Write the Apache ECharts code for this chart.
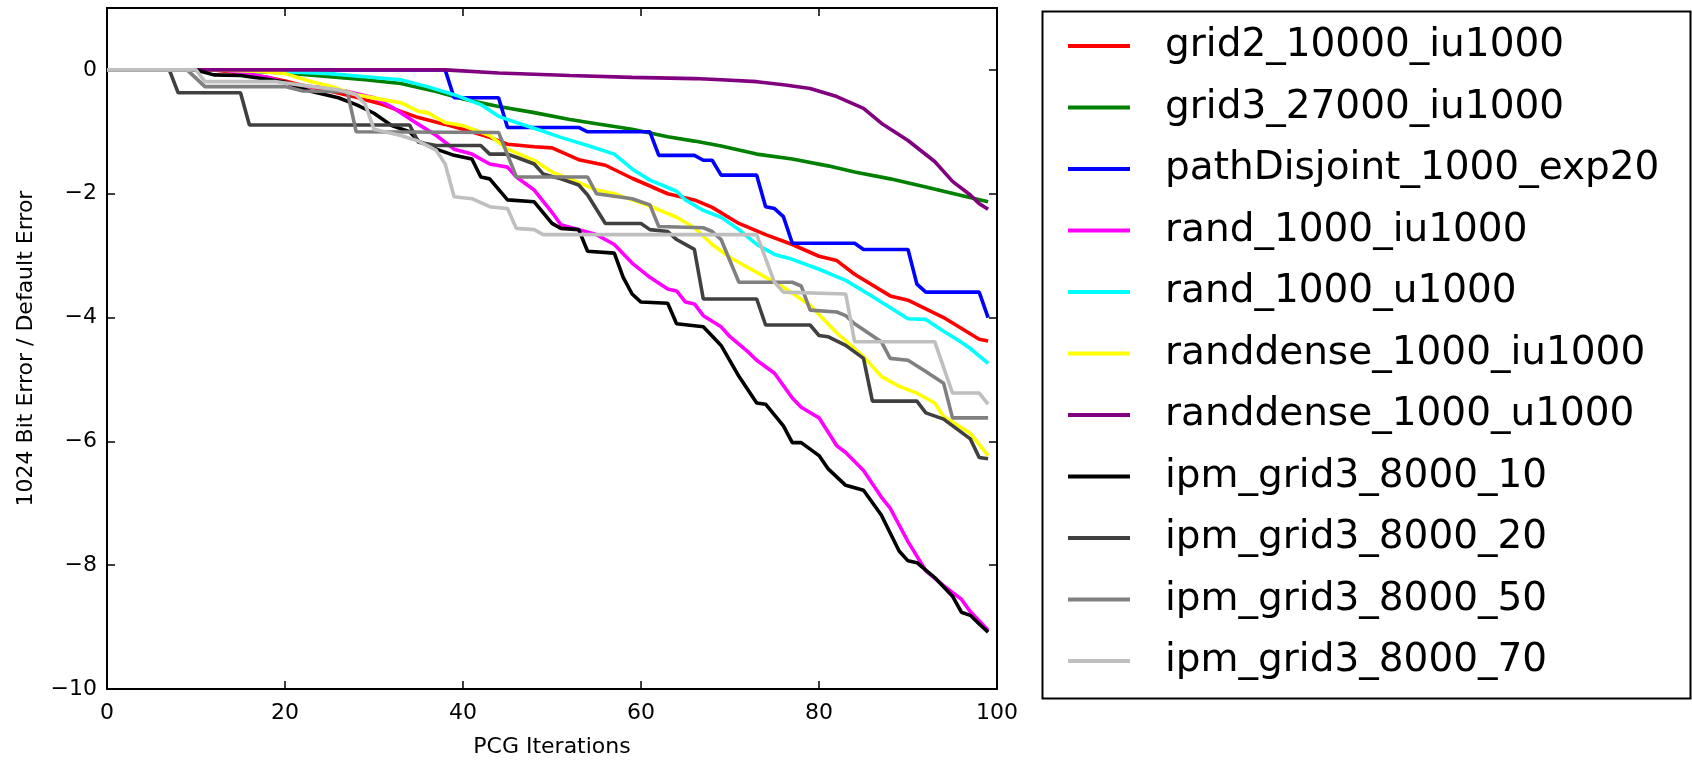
<!DOCTYPE html>
<html>
<head>
<meta charset="utf-8">
<title>PCG iterations</title>
<script src="https://cdn.jsdelivr.net/npm/echarts@6/dist/echarts.min.js"></script>
<style>
    html, body { margin: 0; padding: 0; background: #fff; }
    #chart { width: 1692px; height: 763px; }
</style>
</head>
<body>
<div id="chart"></div>
<script>
// [iteration, log error ratio]
const grid2_10000_iu1000 = [[0,0],[12,0],[15,-0.05],[18,-0.12],[20,-0.18],[22,-0.25],[25,-0.34],[28,-0.44],[31,-0.56],[33,-0.67],[35,-0.77],[38,-0.88],[40,-0.96],[43,-1.09],[45,-1.2],[48,-1.24],[50,-1.26],[53,-1.45],[56,-1.54],[59,-1.75],[63,-2.0],[66,-2.1],[68,-2.22],[71,-2.48],[74,-2.66],[77,-2.82],[80,-3.01],[82,-3.08],[84,-3.3],[88,-3.65],[90,-3.72],[92,-3.86],[94,-4.0],[98,-4.35],[99,-4.38]];
const grid3_27000_iu1000 = [[0,0],[12,0],[16,-0.02],[20,-0.05],[25,-0.11],[29,-0.16],[33,-0.22],[37,-0.35],[40,-0.47],[44,-0.59],[48,-0.69],[52,-0.8],[55,-0.87],[59,-0.96],[63,-1.08],[66,-1.15],[69,-1.23],[73,-1.36],[77,-1.44],[81,-1.55],[84,-1.65],[88,-1.76],[92,-1.89],[96,-2.03],[99,-2.13]];
const pathDisjoint_1000_exp20 = [[0,0],[38,0],[39,-0.45],[44,-0.45],[45,-0.93],[53,-0.93],[54,-1.0],[61,-1.0],[62,-1.38],[66,-1.38],[67,-1.46],[68,-1.46],[69,-1.7],[73,-1.7],[74,-2.21],[75,-2.24],[76,-2.37],[77,-2.8],[84,-2.8],[85,-2.9],[90,-2.9],[91,-3.46],[92,-3.59],[98,-3.59],[99,-4.0]];
const rand_1000_iu1000 = [[0,0],[13,0],[16,-0.07],[18,-0.12],[21,-0.25],[24,-0.28],[27,-0.35],[30,-0.45],[32,-0.6],[33,-0.69],[35,-0.88],[37,-1.06],[39,-1.28],[41,-1.36],[43,-1.52],[45,-1.57],[46,-1.73],[48,-1.94],[50,-2.3],[51,-2.5],[53,-2.58],[55,-2.66],[57,-2.82],[59,-3.12],[61,-3.35],[63,-3.54],[64,-3.57],[65,-3.75],[66,-3.78],[67,-3.97],[69,-4.15],[70,-4.31],[72,-4.55],[73,-4.69],[75,-4.9],[77,-5.3],[78,-5.45],[80,-5.62],[82,-6.07],[83,-6.18],[85,-6.47],[87,-6.9],[88,-7.08],[90,-7.62],[92,-8.09],[94,-8.33],[96,-8.55],[97,-8.75],[99,-9.05]];
const rand_1000_u1000 = [[0,0],[13,0],[18,-0.02],[22,-0.04],[25,-0.06],[29,-0.11],[33,-0.16],[36,-0.27],[39,-0.4],[42,-0.56],[44,-0.75],[46,-0.85],[49,-0.99],[51,-1.09],[54,-1.22],[57,-1.36],[59,-1.6],[61,-1.78],[64,-1.96],[65,-2.1],[67,-2.27],[69,-2.38],[71,-2.58],[73,-2.82],[75,-2.98],[77,-3.06],[80,-3.22],[83,-3.4],[86,-3.66],[90,-4.02],[92,-4.03],[94,-4.22],[96,-4.4],[97,-4.5],[99,-4.74]];
const randdense_1000_iu1000 = [[0,0],[12,0],[17,-0.02],[20,-0.06],[23,-0.19],[25,-0.26],[28,-0.4],[31,-0.48],[33,-0.53],[35,-0.67],[36,-0.69],[38,-0.85],[40,-0.9],[43,-1.06],[45,-1.28],[48,-1.46],[50,-1.65],[52,-1.76],[55,-1.94],[57,-2.0],[59,-2.1],[61,-2.2],[64,-2.38],[66,-2.55],[68,-2.82],[70,-3.03],[73,-3.27],[76,-3.51],[79,-3.8],[82,-4.25],[85,-4.63],[87,-4.95],[89,-5.11],[91,-5.22],[93,-5.38],[94,-5.6],[97,-5.87],[99,-6.23]];
const randdense_1000_u1000 = [[0,0],[38,0],[44,-0.05],[52,-0.09],[59,-0.12],[66,-0.14],[69,-0.16],[73,-0.19],[76,-0.24],[79,-0.3],[82,-0.43],[85,-0.62],[87,-0.86],[90,-1.14],[93,-1.48],[95,-1.8],[97,-2.02],[98,-2.16],[99,-2.25]];
const ipm_grid3_8000_10 = [[0,0],[10,0],[12,-0.08],[15,-0.09],[18,-0.15],[20,-0.2],[23,-0.35],[26,-0.45],[28,-0.56],[30,-0.7],[32,-0.9],[34,-1.0],[35,-1.15],[37,-1.28],[39,-1.38],[41,-1.44],[42,-1.73],[43,-1.76],[45,-2.1],[48,-2.13],[50,-2.48],[51,-2.56],[53,-2.58],[54,-2.93],[57,-2.96],[58,-3.35],[59,-3.62],[60,-3.75],[63,-3.77],[64,-4.1],[67,-4.15],[69,-4.45],[71,-4.95],[73,-5.38],[74,-5.4],[76,-5.75],[77,-6.02],[78,-6.02],[80,-6.23],[81,-6.44],[83,-6.71],[85,-6.79],[87,-7.19],[89,-7.77],[90,-7.93],[91,-7.96],[93,-8.2],[95,-8.5],[96,-8.76],[97,-8.81],[98,-8.95],[99,-9.08]];
const ipm_grid3_8000_20 = [[0,0],[7,0],[8,-0.37],[15,-0.37],[16,-0.89],[34,-0.89],[35,-1.17],[37,-1.22],[42,-1.22],[43,-1.36],[45,-1.36],[46,-1.41],[48,-1.52],[49,-1.68],[51,-1.76],[53,-1.86],[54,-2.02],[56,-2.48],[60,-2.48],[61,-2.58],[63,-2.61],[64,-2.74],[66,-2.9],[67,-3.7],[73,-3.7],[74,-4.12],[79,-4.12],[80,-4.29],[81,-4.31],[83,-4.45],[85,-4.66],[86,-5.35],[91,-5.35],[92,-5.54],[94,-5.64],[97,-5.96],[98,-6.26],[99,-6.28]];
const ipm_grid3_8000_50 = [[0,0],[9,0],[11,-0.27],[20,-0.27],[22,-0.34],[27,-0.35],[28,-1.0],[44,-1.01],[46,-1.73],[54,-1.73],[55,-2.0],[59,-2.08],[61,-2.18],[62,-2.53],[67,-2.55],[68,-2.61],[69,-2.74],[71,-3.43],[77,-3.43],[78,-3.49],[79,-3.88],[82,-3.91],[83,-3.97],[84,-4.1],[87,-4.39],[88,-4.66],[90,-4.69],[92,-4.87],[94,-5.06],[95,-5.62],[99,-5.62]];
const ipm_grid3_8000_70 = [[0,0],[10,0],[11,-0.19],[19,-0.19],[22,-0.25],[26,-0.32],[28,-0.4],[29,-0.55],[30,-0.96],[33,-1.06],[35,-1.15],[37,-1.3],[38,-1.52],[39,-2.05],[41,-2.08],[43,-2.21],[45,-2.24],[46,-2.56],[48,-2.58],[49,-2.66],[73,-2.66],[75,-3.43],[76,-3.59],[83,-3.62],[84,-4.39],[93,-4.39],[95,-5.22],[98,-5.22],[99,-5.4]];

const names = ['grid2_10000_iu1000', 'grid3_27000_iu1000', 'pathDisjoint_1000_exp20', 'rand_1000_iu1000',
    'rand_1000_u1000', 'randdense_1000_iu1000', 'randdense_1000_u1000', 'ipm_grid3_8000_10',
    'ipm_grid3_8000_20', 'ipm_grid3_8000_50', 'ipm_grid3_8000_70'];
const values = [grid2_10000_iu1000, grid3_27000_iu1000, pathDisjoint_1000_exp20, rand_1000_iu1000,
    rand_1000_u1000, randdense_1000_iu1000, randdense_1000_u1000, ipm_grid3_8000_10,
    ipm_grid3_8000_20, ipm_grid3_8000_50, ipm_grid3_8000_70];
const colors = ['#ff0000', '#008000', '#0000ff', '#ff00ff', '#00ffff', '#ffff00', '#800080',
    '#000000', '#404040', '#808080', '#bfbfbf'];

const xTicks = [0, 20, 40, 60, 80, 100];
const yTicks = [-10, -8, -6, -4, -2, 0];

(function () {
    let chart = echarts.init(document.querySelector('#chart'));
    const font = 'DejaVu Sans';
    const minus = v => (v < 0 ? '\u2212' + Math.abs(v) : String(v));

    // matplotlib-style box: ticks inside on all four sides
    function frameAxis(extra) {
        return Object.assign({
            type: 'value',
            axisLine: { show: true, onZero: false, lineStyle: { color: '#000', width: 2 } },
            axisTick: { show: true, inside: true, length: 8, lineStyle: { color: '#000', width: 1.5 } },
            splitLine: { show: false }
        }, extra);
    }

    // short bar centred in a 62x40 box (the empty sub-paths pin the box size)
    const lineIcon = 'path://M0,0L0,0ZM0,18L62,18L62,22L0,22ZM62,40L62,40Z';

    let option = {
        animation: false,
        backgroundColor: '#fff',
        grid: { left: 107, right: 695, top: 8, bottom: 67 },
        xAxis: [
            frameAxis({
                position: 'bottom', min: xTicks[0], max: xTicks[xTicks.length - 1], interval: 20,
                name: 'PCG Iterations', nameLocation: 'middle', nameGap: 47,
                nameTextStyle: { fontFamily: font, fontSize: 22, color: '#000' },
                axisLabel: { fontFamily: font, fontSize: 22, color: '#000', margin: 13 }
            }),
            frameAxis({
                position: 'top', min: xTicks[0], max: xTicks[xTicks.length - 1], interval: 20,
                axisLabel: { show: false }
            })
        ],
        yAxis: [
            frameAxis({
                position: 'left', min: yTicks[0], max: 1, interval: 2,
                name: '1024 Bit Error / Default Error', nameLocation: 'middle', nameGap: 70,
                nameTextStyle: { fontFamily: font, fontSize: 22, color: '#000' },
                axisLabel: { fontFamily: font, fontSize: 22, color: '#000', margin: 10, showMaxLabel: false, formatter: minus }
            }),
            frameAxis({
                position: 'right', min: yTicks[0], max: 1, interval: 2,
                axisLabel: { show: false }
            })
        ],
        legend: {
            orient: 'vertical',
            left: 1063,
            top: 21,
            itemWidth: 62,
            itemHeight: 40,
            itemGap: 21.5,
            icon: lineIcon,
            textStyle: { fontFamily: font, fontSize: 39, color: '#000', lineHeight: 40, padding: [0, 0, 0, 30] },
            data: names
        },
        graphic: [{
            type: 'rect',
            left: 1040,
            top: 9,
            shape: { width: 648, height: 687 },
            style: { fill: 'none', stroke: '#000', lineWidth: 2 },
            silent: true
        }],
        series: names.map((n, i) => ({
            name: n,
            type: 'line',
            data: values[i],
            symbol: 'none',
            color: colors[i],
            lineStyle: { width: 3.6, color: colors[i] }
        }))
    };

    chart.setOption(option);
})();
</script>
</body>
</html>
